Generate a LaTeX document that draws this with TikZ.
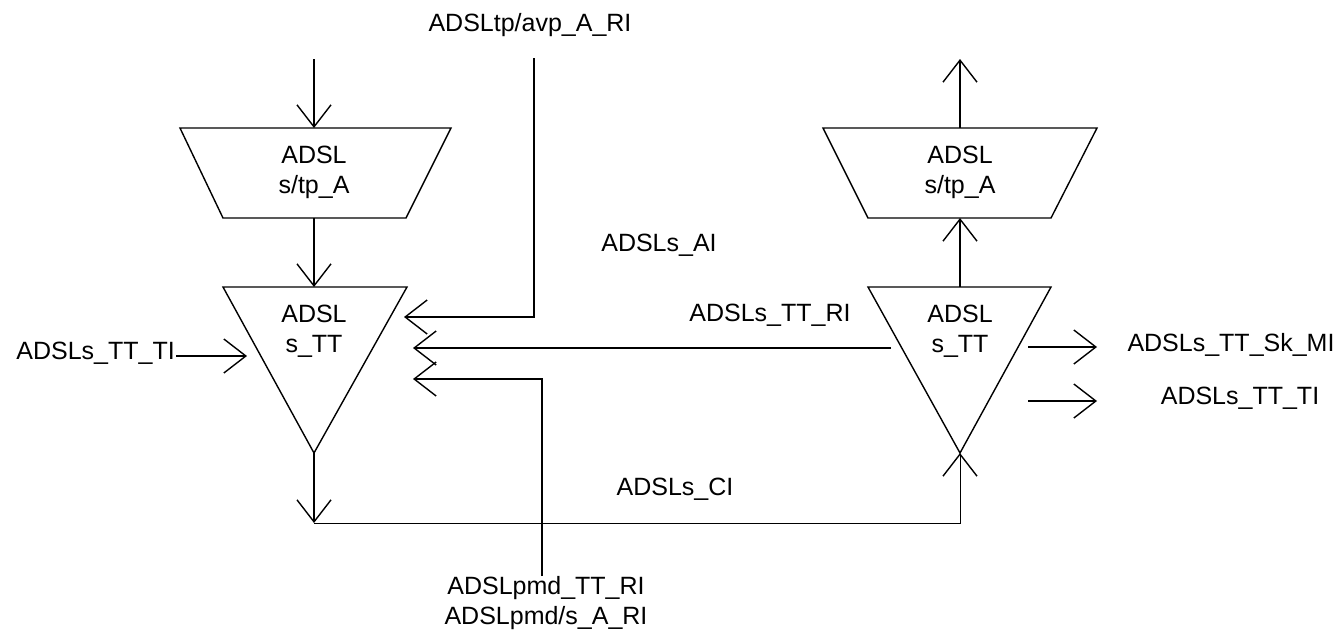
\documentclass[tikz,border=0pt]{standalone}
\usepackage{fontspec}
\setmainfont{Liberation Sans}
\usetikzlibrary{arrows.meta}
\begin{document}
\begin{tikzpicture}[x=1pt,y=-1pt,
  ln/.style={line width=1.4pt, line join=miter},
  arr/.style={ln, -{Straight Barb[length=22pt,width=34pt,line width=1.4pt]}},
  lbl/.style={inner sep=0pt, font=\fontsize{25}{30}\selectfont, align=center}]
\useasboundingbox (0,0) rectangle (1344,630);
% shape corners
\coordinate (lt1) at (180,128); \coordinate (lt2) at (451,128);
\coordinate (lt3) at (406,218); \coordinate (lt4) at (223,218);
\coordinate (ltTop) at (314,128); \coordinate (ltBot) at (314,218);
\coordinate (lr1) at (223,287); \coordinate (lr2) at (407,287);
\coordinate (lrTip) at (314,453); \coordinate (lrTop) at (314,287);
\coordinate (rt1) at (823,128); \coordinate (rt2) at (1097,128);
\coordinate (rt3) at (1051,218); \coordinate (rt4) at (868,218);
\coordinate (rtTop) at (960,128); \coordinate (rtBot) at (960,218);
\coordinate (rr1) at (868,287); \coordinate (rr2) at (1051,287);
\coordinate (rrTip) at (960,453); \coordinate (rrTop) at (960,287);
% shapes
\draw[ln] (lt1) -- (lt2) -- (lt3) -- (lt4) -- cycle;
\draw[ln] (lr1) -- (lr2) -- (lrTip) -- cycle;
\draw[ln] (rt1) -- (rt2) -- (rt3) -- (rt4) -- cycle;
\draw[ln] (rr1) -- (rr2) -- (rrTip) -- cycle;
% shape texts
\node[lbl] (tpL) at (314,172) {ADSL\\s/tp\_A};
\node[lbl] (ttL) at (314,331) {ADSL\\s\_TT};
\node[lbl] (tpR) at (960,172) {ADSL\\s/tp\_A};
\node[lbl] (ttR) at (960,331) {ADSL\\s\_TT};
% free ends
\coordinate (inTop) at (314,59);
\coordinate (outTop) at (960,59);
\coordinate (ciCorner) at (314,523);
\coordinate (avpStart) at (534,58);
\coordinate (avpEnd) at (404,317);
\coordinate (pmdStart) at (542,576);
\coordinate (pmdEnd) at (413,379);
\coordinate (riStart) at (891,348);
\coordinate (riEnd) at (413,348);
\coordinate (tiStart) at (176,356);
\coordinate (tiEnd) at (247,356);
\coordinate (skStart) at (1028,347);
\coordinate (skEnd) at (1097,347);
\coordinate (ti2Start) at (1028,401);
\coordinate (ti2End) at (1097,401);
% connectors
\draw[arr] (inTop) -- (ltTop);
\draw[arr] (ltBot) -- (lrTop);
\draw[arr] (lrTip) -- (ciCorner);
\draw[arr, line width=1pt] (ciCorner) -| (rrTip);
\draw[arr] (rrTop) -- (rtBot);
\draw[arr] (rtTop) -- (outTop);
\draw[arr] (avpStart) |- (avpEnd);
\draw[arr] (pmdStart) |- (pmdEnd);
\draw[arr] (riStart) -- (riEnd);
\draw[arr] (tiStart) -- (tiEnd);
\draw[arr] (skStart) -- (skEnd);
\draw[arr] (ti2Start) -- (ti2End);
% labels
\node[lbl] (avp) at (530,25) {ADSLtp/avp\_A\_RI};
\node[lbl, anchor=east] (ltti) at (175,353) {ADSLs\_TT\_TI};
\node[lbl] (ai) at (659,245) {ADSLs\_AI};
\node[lbl] (ri) at (770,315) {ADSLs\_TT\_RI};
\node[lbl] (ci) at (675,489) {ADSLs\_CI};
\node[lbl] (sk) at (1231,345) {ADSLs\_TT\_Sk\_MI};
\node[lbl] (rti) at (1240,398) {ADSLs\_TT\_TI};
\node[lbl] (pmd) at (546,603) {ADSLpmd\_TT\_RI\\ADSLpmd/s\_A\_RI};
\end{tikzpicture}
\end{document}
